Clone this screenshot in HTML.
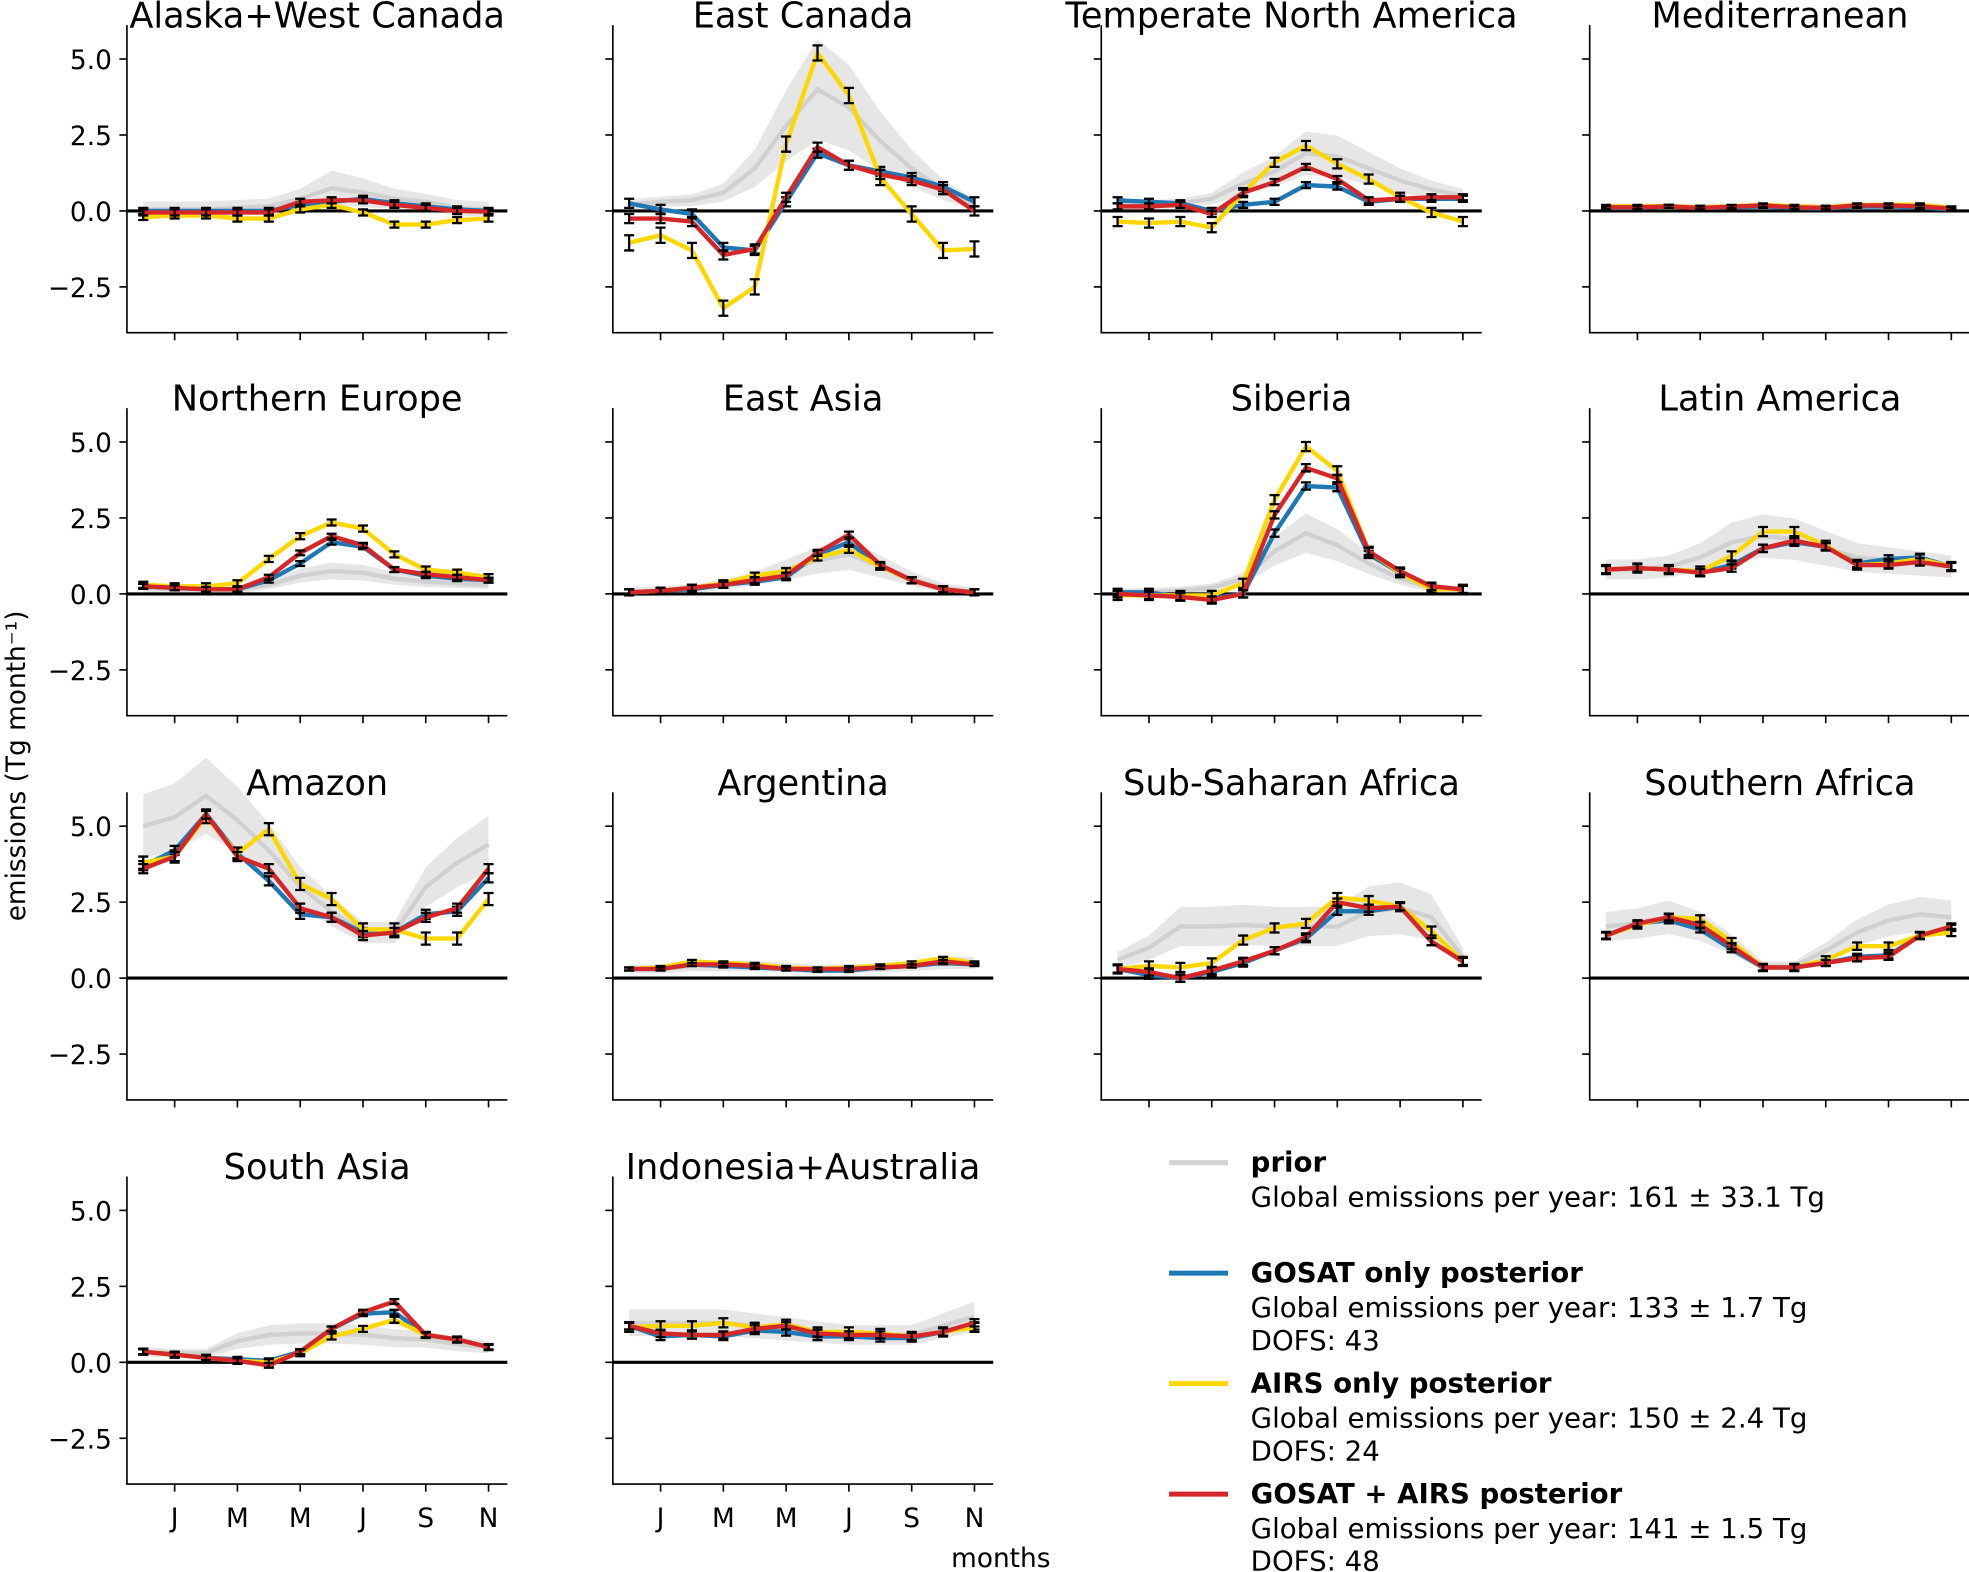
<!DOCTYPE html>
<html><head><meta charset="utf-8">
<style>
html,body{margin:0;padding:0;background:#fff;}
svg{display:block;font-family:"DejaVu Sans","Liberation Sans",sans-serif;}
</style></head>
<body>
<svg id="chart" xmlns="http://www.w3.org/2000/svg" width="1969" height="1572" viewBox="0 0 1568 1252">
<g id="root"></g>
<text transform="translate(20,610) rotate(-90)" text-anchor="middle" font-size="21">emissions (Tg month⁻¹)</text>
<text x="797" y="1248" text-anchor="middle" font-size="21">months</text>
<g>
 <line x1="931" y1="926" x2="978" y2="926" stroke="#d3d3d3" stroke-width="4"/>
 <text x="996" y="933" font-size="22" font-weight="bold">prior</text>
 <text x="996" y="961" font-size="22">Global emissions per year: 161 ± 33.1 Tg</text>
 <line x1="931" y1="1014" x2="978" y2="1014" stroke="#1f77b4" stroke-width="4"/>
 <text x="996" y="1021" font-size="22" font-weight="bold">GOSAT only posterior</text>
 <text x="996" y="1049" font-size="22">Global emissions per year: 133 ± 1.7 Tg</text>
 <text x="996" y="1075" font-size="22">DOFS: 43</text>
 <line x1="931" y1="1102" x2="978" y2="1102" stroke="#ffd700" stroke-width="4"/>
 <text x="996" y="1109" font-size="22" font-weight="bold">AIRS only posterior</text>
 <text x="996" y="1137" font-size="22">Global emissions per year: 150 ± 2.4 Tg</text>
 <text x="996" y="1163" font-size="22">DOFS: 24</text>
 <line x1="931" y1="1190" x2="978" y2="1190" stroke="#d62728" stroke-width="4"/>
 <text x="996" y="1197" font-size="22" font-weight="bold">GOSAT + AIRS posterior</text>
 <text x="996" y="1225" font-size="22">Global emissions per year: 141 ± 1.5 Tg</text>
 <text x="996" y="1251" font-size="22">DOFS: 48</text>
</g>
</svg>
<script>
const regions = ["Alaska+West Canada","East Canada","Temperate North America","Mediterranean","Northern Europe","East Asia","Siberia","Latin America","Amazon","Argentina","Sub-Saharan Africa","Southern Africa","South Asia","Indonesia+Australia"];
const monthTicks = ["J","M","M","J","S","N"];
const yTicks = [5.0,2.5,0.0,-2.5];
const yTickLabels = ["5.0","2.5","0.0","\u22122.5"];
const priorVals = [
[0.05,0.05,0.05,0.1,0.15,0.4,0.75,0.6,0.4,0.3,0.1,0.05],
[0.2,0.3,0.35,0.6,1.4,2.8,4.0,3.4,2.3,1.4,0.7,0.2],
[0.2,0.2,0.25,0.4,0.9,1.3,1.9,1.8,1.4,1.0,0.7,0.5],
[0.1,0.1,0.1,0.1,0.1,0.12,0.1,0.1,0.12,0.12,0.1,0.08],
[0.2,0.15,0.15,0.15,0.3,0.6,0.75,0.7,0.5,0.4,0.35,0.3],
[0.05,0.1,0.15,0.3,0.5,0.8,1.1,1.3,0.9,0.5,0.2,0.05],
[0.05,0.05,0.1,0.2,0.5,1.4,2.0,1.6,1.0,0.5,0.2,0.1],
[0.8,0.8,0.9,1.2,1.7,1.9,1.8,1.5,1.2,1.1,1.0,0.9],
[5.0,5.3,6.0,5.2,4.2,3.0,2.2,1.5,1.5,3.0,3.8,4.4],
[0.3,0.3,0.4,0.4,0.4,0.35,0.3,0.3,0.35,0.4,0.5,0.5],
[0.6,1.0,1.7,1.7,1.75,1.7,1.7,1.7,2.2,2.3,2.0,0.7],
[1.7,1.8,2.0,1.7,1.1,0.4,0.4,0.9,1.5,1.9,2.1,2.0],
[0.35,0.3,0.3,0.7,0.9,0.95,0.95,0.9,0.8,0.75,0.6,0.5],
[1.3,1.3,1.3,1.3,1.2,1.1,1.0,0.9,0.9,0.9,1.2,1.5]];
const gosatVals = [
[0,0,0,0,0,0.2,0.3,0.4,0.25,0.15,0.05,0],
[0.25,0.05,-0.1,-1.2,-1.3,0.3,1.9,1.5,1.3,1.1,0.8,0.3],
[0.35,0.3,0.25,0.0,0.2,0.3,0.85,0.8,0.3,0.4,0.4,0.4],
[0.1,0.1,0.15,0.1,0.12,0.15,0.1,0.08,0.15,0.15,0.12,0.05],
[0.25,0.2,0.15,0.15,0.45,1.0,1.7,1.55,0.8,0.6,0.5,0.45],
[0.05,0.1,0.15,0.3,0.4,0.55,1.3,1.7,0.9,0.45,0.15,0.05],
[0.05,0.05,-0.1,-0.15,0.0,2.0,3.55,3.5,1.3,0.7,0.2,0.15],
[0.8,0.85,0.8,0.7,0.95,1.5,1.7,1.55,1.0,1.15,1.2,0.9],
[3.7,4.2,5.4,4.1,3.2,2.1,2.0,1.5,1.5,2.1,2.2,3.3],
[0.3,0.3,0.45,0.4,0.35,0.3,0.25,0.25,0.35,0.4,0.5,0.45],
[0.3,0.1,0.0,0.2,0.5,0.9,1.3,2.2,2.2,2.35,1.2,0.55],
[1.4,1.8,1.9,1.6,0.95,0.35,0.35,0.5,0.7,0.75,1.4,1.65],
[0.35,0.25,0.15,0.1,0.05,0.35,1.1,1.6,1.65,0.9,0.75,0.5],
[1.2,0.85,0.9,0.85,1.05,1.0,0.85,0.85,0.8,0.8,1.0,1.2]];
const airsVals = [
[-0.2,-0.15,-0.15,-0.25,-0.25,0.05,0.2,-0.05,-0.45,-0.45,-0.3,-0.25],
[-1.05,-0.8,-1.3,-3.2,-2.5,2.2,5.2,3.8,1.1,-0.1,-1.3,-1.25],
[-0.35,-0.4,-0.35,-0.55,0.6,1.6,2.15,1.55,1.05,0.45,-0.05,-0.35],
[0.15,0.15,0.15,0.12,0.15,0.2,0.15,0.12,0.2,0.2,0.2,0.1],
[0.3,0.25,0.25,0.35,1.15,1.9,2.35,2.15,1.3,0.8,0.7,0.55],
[0.05,0.1,0.2,0.35,0.6,0.75,1.2,1.45,0.9,0.45,0.15,0.05],
[-0.05,-0.05,-0.05,-0.05,0.35,3.1,4.85,4.05,1.4,0.7,0.15,0.15],
[0.8,0.85,0.8,0.75,1.25,2.05,2.05,1.6,0.95,1.0,1.15,0.9],
[3.8,4.0,5.3,4.1,4.9,3.1,2.6,1.6,1.6,1.3,1.3,2.6],
[0.3,0.35,0.55,0.5,0.45,0.35,0.3,0.35,0.4,0.5,0.65,0.5],
[0.3,0.4,0.35,0.5,1.25,1.65,1.8,2.65,2.55,2.35,1.55,0.55],
[1.4,1.75,2.0,1.95,1.2,0.35,0.35,0.6,1.05,1.05,1.4,1.5],
[0.35,0.25,0.15,0.05,0.0,0.3,0.85,1.1,1.4,0.9,0.75,0.5],
[1.15,1.2,1.2,1.3,1.15,1.25,1.0,1.0,0.95,0.85,1.0,1.15]];
const jointVals = [
[-0.05,-0.05,-0.05,-0.05,-0.05,0.3,0.35,0.35,0.2,0.1,0,-0.02],
[-0.25,-0.25,-0.35,-1.45,-1.25,0.45,2.1,1.5,1.2,1.0,0.7,0.0],
[0.15,0.15,0.2,-0.1,0.6,0.95,1.45,1.05,0.35,0.4,0.45,0.45],
[0.12,0.12,0.15,0.1,0.14,0.18,0.12,0.1,0.18,0.18,0.15,0.08],
[0.25,0.2,0.15,0.15,0.55,1.35,1.9,1.6,0.8,0.65,0.55,0.45],
[0.05,0.1,0.2,0.3,0.45,0.6,1.35,1.95,0.95,0.45,0.15,0.05],
[0.0,-0.05,-0.1,-0.2,0.0,2.6,4.15,3.8,1.4,0.75,0.25,0.15],
[0.8,0.85,0.8,0.7,0.85,1.5,1.75,1.55,0.95,0.95,1.05,0.9],
[3.6,4.0,5.4,4.0,3.6,2.3,2.0,1.4,1.5,2.0,2.3,3.6],
[0.3,0.3,0.45,0.45,0.4,0.3,0.3,0.3,0.35,0.4,0.55,0.45],
[0.3,0.2,0.0,0.25,0.55,0.9,1.35,2.5,2.3,2.35,1.2,0.55],
[1.4,1.8,2.0,1.75,1.05,0.35,0.35,0.5,0.65,0.7,1.4,1.7],
[0.35,0.25,0.15,0.05,-0.1,0.35,1.1,1.65,2.0,0.9,0.75,0.5],
[1.2,0.95,0.9,0.9,1.1,1.2,0.95,0.9,0.9,0.85,1.0,1.3]];
const priorSpread = [0.7,0.4,0.35,0.3,0.3,0.35,0.3,0.35,0.2,0.3,0.35,0.25,0.3,0.3];
const postErr = [0.1,0.15,0.1,0.05,0.08,0.1,0.12,0.12,0.15,0.05,0.12,0.1,0.08,0.12];
const airsErr = [0.1,0.25,0.15,0.05,0.1,0.1,0.15,0.15,0.2,0.05,0.15,0.12,0.1,0.15];

const NS="http://www.w3.org/2000/svg";
const root=document.getElementById('root');
const colX0=[101,488,877,1266], rowZero=[168,473,779,1085];
const W=303, PPU=24.2;
function mk(tag,attrs,parent){const e=document.createElementNS(NS,tag);for(const k in attrs)e.setAttribute(k,attrs[k]);(parent||root).appendChild(e);return e;}

regions.forEach((name,p)=>{
  const c=p%4,r=Math.floor(p/4);
  const x0=colX0[c], z=rowZero[r];
  const xs=i=>x0+13+25*i;
  const ys=v=>z-v*PPU;
  const g=mk('g',{});
  
  
  const t=mk('text',{x:x0+W/2,y:z-146,'text-anchor':'middle','font-size':'28'},g);
  
  
  t.textContent=name;
  const pv=priorVals[p];
  let up=pv.map((v,i)=>xs(i)+','+ys(v+priorSpread[p]*Math.max(v,0.3)+0.05));
  let dn=pv.map((v,i)=>xs(i)+','+ys(v-priorSpread[p]*Math.max(v,0.3)-0.05)).reverse();
  const band=mk('polygon',{points:up.concat(dn).join(' '),fill:'#e6e6e6'},g);
  
  
  const pl=mk('polyline',{points:pv.map((v,i)=>xs(i)+','+ys(v)).join(' '),fill:'none',stroke:'#d0d0d0','stroke-width':3.5},g);
  
  
  const zl=mk('line',{x1:x0,x2:x0+W,y1:z,y2:z,stroke:'#000','stroke-width':2.5},g);
  
  
  const series=[[gosatVals,'#1f77b4','gosat',postErr],[airsVals,'#ffd700','airs',airsErr],[jointVals,'#d62728','joint',postErr]];
  series.forEach(([arr,col,nm,errA])=>{
    const vals=arr[p];
    const ln=mk('polyline',{points:vals.map((v,i)=>xs(i)+','+ys(v)).join(' '),fill:'none',stroke:col,'stroke-width':3.5,'stroke-linejoin':'round'},g);
    
    
    vals.forEach((v,i)=>{
      const e=errA[p],x=xs(i);
      const eb=mk('path',{d:`M${x},${ys(v+e)}V${ys(v-e)}M${x-4},${ys(v+e)}H${x+4}M${x-4},${ys(v-e)}H${x+4}`,stroke:'#000','stroke-width':1.8,fill:'none'},g);
      
      
    });
  });
  const ax=mk('path',{d:`M${x0},${z-148}V${z+97}H${x0+W}`,stroke:'#000','stroke-width':1.3,fill:'none'},g);
  
  
  yTicks.forEach((v,k)=>{
    const tk=mk('line',{x1:x0-6,x2:x0,y1:ys(v),y2:ys(v),stroke:'#000','stroke-width':1.3},g);
    
    
    if(c===0){
      const tl=mk('text',{x:x0-12,y:ys(v)+8,'text-anchor':'end','font-size':'21'},g);
      
      
      tl.textContent=yTickLabels[k];
    }
  });
  monthTicks.forEach((m,k)=>{
    const x=xs(1+2*k);
    const tk=mk('line',{x1:x,x2:x,y1:z+97,y2:z+103,stroke:'#000','stroke-width':1.3},g);
    
    
    if(r===3){
      const tl=mk('text',{x:x,y:z+131,'text-anchor':'middle','font-size':'21'},g);
      
      
      tl.textContent=m;
    }
  });
});
</script>
</body></html>
